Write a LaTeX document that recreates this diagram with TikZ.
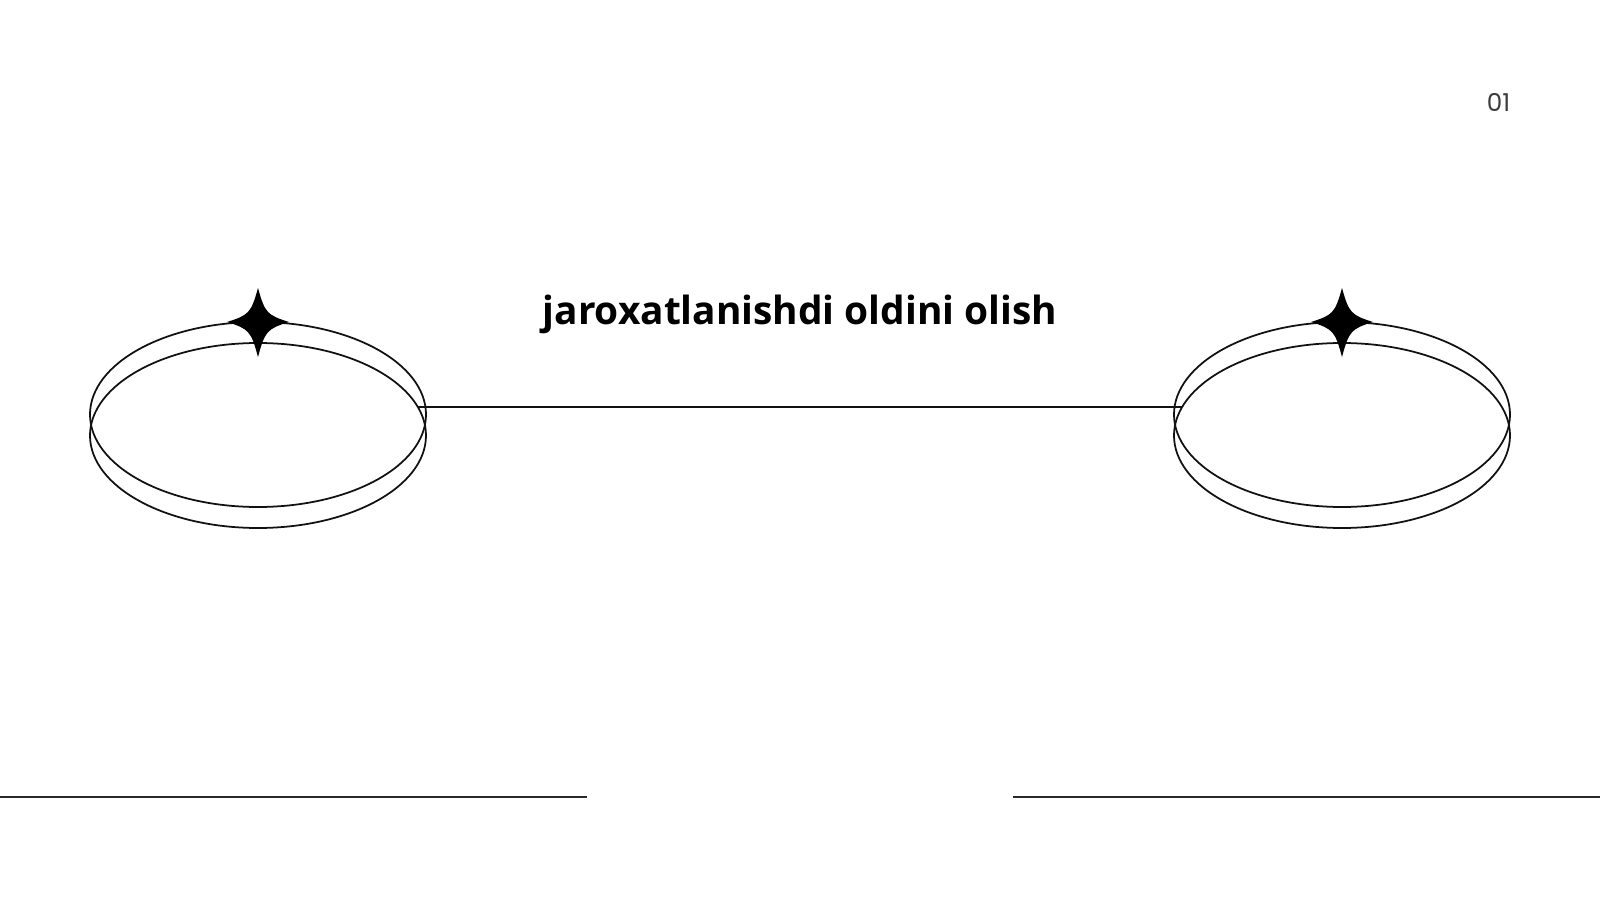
\documentclass[tikz,border=0pt]{standalone}
\usepackage{fontspec}
\usetikzlibrary{shapes.geometric}
\newfontfamily\titlefont{Open Sans}
\newfontfamily\pagefont{Poppins}
\definecolor{ink}{HTML}{111111}
\definecolor{rule}{HTML}{2A2A2A}
\definecolor{pagegray}{HTML}{3C3C3C}

\begin{document}
\begin{tikzpicture}[x=0.1mm, y=-0.1mm,
		rim/.style={ellipse, draw=ink, line width=0.5pt, minimum width=33.6mm, minimum height=18.5mm, inner sep=0pt, outer sep=0pt},
		sparkle/.pic={
			\fill[black] (0,-34) .. controls (7,-9) and (9,-7) .. (31,0)
			.. controls (9,7) and (7,9) .. (0,35)
			.. controls (-7,9) and (-9,7) .. (-31,0)
			.. controls (-9,-7) and (-7,-9) .. cycle;
		}]
			\useasboundingbox (0,0) rectangle (1600,900);

			% left ring
			\node[rim] (ringLtop) at (258,414.5) {};
			\node[rim] (ringLbot) at (258,435.5) {};
			\pic at (258,322) {sparkle};

			% right ring
			\node[rim] (ringRtop) at (1342,414.5) {};
			\node[rim] (ringRbot) at (1342,435.5) {};
			\pic at (1342,322) {sparkle};

			\draw[ink, line width=0.5pt] (ringLbot.10) -- (ringRbot.170);

			\node[anchor=base, inner sep=0pt, font=\titlefont\bfseries\fontsize{11.05}{13}\selectfont] (title) at (800,325) {jaroxatlanishdi oldini olish};
			\node[anchor=base east, inner sep=0pt, text=pagegray, font=\pagefont\fontsize{7}{8}\selectfont] (pagenum) at (1511,112) {01};

			% bottom rules
			\coordinate (ruleLa) at (0,797);
			\coordinate (ruleLb) at (587,797);
			\coordinate (ruleRa) at (1013,797);
			\coordinate (ruleRb) at (1600,797);
			\draw[rule, line width=0.55pt] (ruleLa) -- (ruleLb);
			\draw[rule, line width=0.55pt] (ruleRa) -- (ruleRb);
		\end{tikzpicture}
\end{document}
